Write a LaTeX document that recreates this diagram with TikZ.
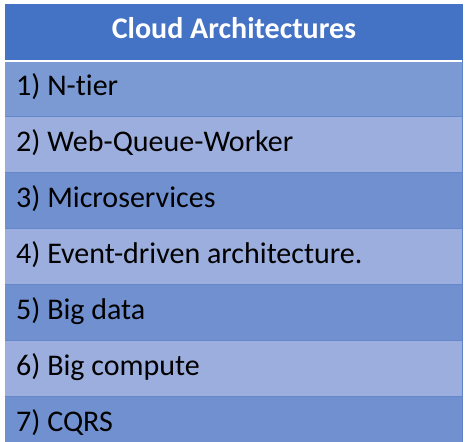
\documentclass[tikz,border=0pt]{standalone}
\usepackage{fontspec}
\setmainfont[Ligatures=NoCommon]{Carlito}
\definecolor{hdr}{HTML}{4472C4}
\definecolor{oddA}{HTML}{7B99D3}
\definecolor{oddB}{HTML}{7090CF}
\definecolor{evenrow}{HTML}{9BAEDD}
\definecolor{rule}{HTML}{6587CC}
\definecolor{edge}{HTML}{5F82C9}
\begin{document}
\begin{tikzpicture}[x=1pt,y=-1pt,
  rowtext/.style={anchor=base west,inner sep=0pt,font=\fontsize{30}{36}\selectfont,text=black},
  hdrtext/.style={anchor=base,inner sep=0pt,font=\fontsize{30}{36}\selectfont\bfseries,text=white}]
\useasboundingbox (0,0) rectangle (472,442);
\fill[white] (0,0) rectangle (472,442);
\begin{scope}
\clip (0,0) rectangle (472,442);
\fill[hdr] (5,4) rectangle (463,60);
\fill[oddA] (5,62) rectangle (463,116);
\fill[evenrow] (5,116) rectangle (463,172);
\fill[oddB] (5,172) rectangle (463,228);
\fill[evenrow] (5,228) rectangle (463,284);
\fill[oddB] (5,284) rectangle (463,340);
\fill[evenrow] (5,340) rectangle (463,396);
\fill[oddB] (5,396) rectangle (463,452);
\draw[rule,line width=1pt] (5,116) -- (463,116) (5,172) -- (463,172) (5,228) -- (463,228) (5,284) -- (463,284) (5,340) -- (463,340) (5,396) -- (463,396);
\draw[edge,line width=1.2pt] (462.4,60) -- (462.4,452);
\end{scope}
\node[hdrtext] (h) at (234,38.5) {Cloud Architectures};
\node[rowtext] (r1) at (16,95.5) {1) N-tier};
\node[rowtext] (r2) at (16,151.5) {2) Web-Queue-Worker};
\node[rowtext] (r3) at (16,207.5) {3) Microservices};
\node[rowtext] (r4) at (16,263.5) {4) Event-driven architecture.};
\node[rowtext] (r5) at (16,319.5) {5) Big data};
\node[rowtext] (r6) at (16,375.5) {6) Big compute};
\node[rowtext] (r7) at (16,431.5) {7) CQRS};
\end{tikzpicture}
\end{document}
